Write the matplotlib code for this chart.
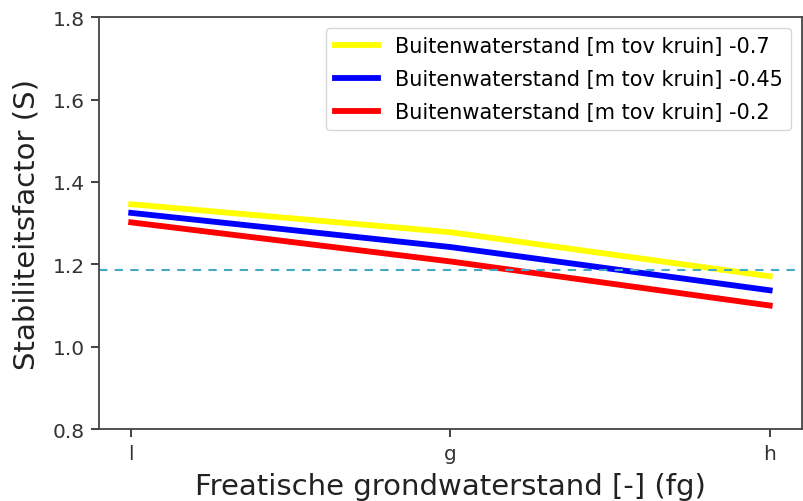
import matplotlib
matplotlib.use('Agg')
import matplotlib.pyplot as plt

# freatische grondwaterstand categories
fg_labels = ['l', 'g', 'h']

# stabiliteitsfactor per buitenwaterstand
s_07 = [1.346, 1.278, 1.171]
s_045 = [1.325, 1.242, 1.137]
s_02 = [1.302, 1.207, 1.100]
s_limit = 1.187

fig = plt.figure(figsize=(8.04, 5.02), dpi=100)
ax = fig.add_axes([0.1235, 0.1434, 0.8735, 0.8201])

x = range(len(fg_labels))
ax.plot(x, s_07, color='yellow', lw=4.2, label='Buitenwaterstand [m tov kruin] -0.7')
ax.plot(x, s_045, color='blue', lw=4.2, label='Buitenwaterstand [m tov kruin] -0.45')
ax.plot(x, s_02, color='red', lw=4.2, label='Buitenwaterstand [m tov kruin] -0.2')
ax.axhline(s_limit, color='#45a8c6', lw=1.5, linestyle=(0, (4, 3.5)))

ax.set_ylim(0.8, 1.8)
ax.set_yticks([0.8, 1.0, 1.2, 1.4, 1.6, 1.8])
ax.set_xticks(list(x))
ax.set_xticklabels(fg_labels)
ax.tick_params(labelsize=14.5, length=5.5, width=1.3, pad=5, colors='#333333')
for sp in ax.spines.values():
    sp.set_linewidth(1.3)
    sp.set_color('#444444')

ax.set_xlabel('Freatische grondwaterstand [-] (fg)', fontsize=21, color='#222222', labelpad=7)
ax.set_ylabel('Stabiliteitsfactor (S)', fontsize=21, color='#222222', labelpad=8.5)

ax.legend(loc='upper right', fontsize=15, handlelength=2.1, labelspacing=0.62,
          borderaxespad=0.5)

plt.savefig('out.png', dpi=100)
plt.close()
